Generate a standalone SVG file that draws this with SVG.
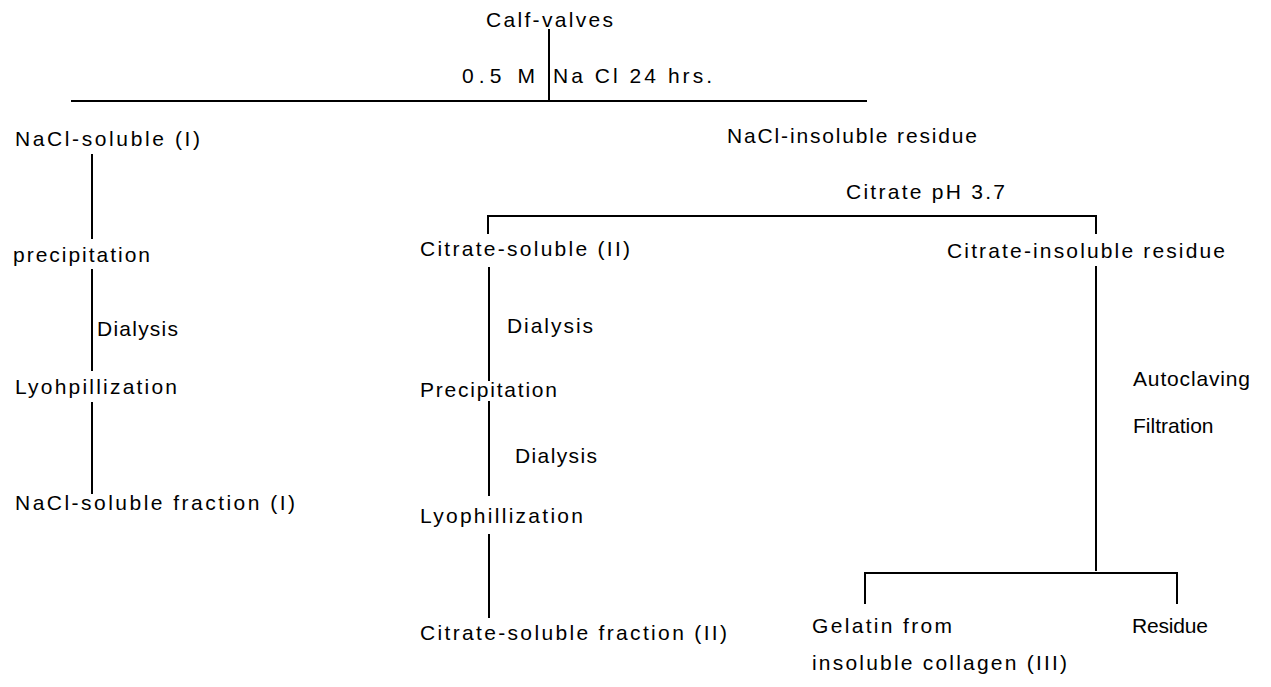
<svg xmlns="http://www.w3.org/2000/svg" width="1271" height="687" viewBox="0 0 1271 687">
<style>
  text { font-family: "Liberation Sans", Arial, sans-serif; font-size: 21px; fill: #000; }
  .ln { stroke: #000; stroke-width: 2; fill: none; stroke-linecap: square; }
</style>
<rect width="1271" height="687" fill="#fff"/>
<g id="connectors">
  <path class="ln" d="M549 30 V101"/>
  <path class="ln" d="M72 101 H866"/>
  <path class="ln" d="M92 155 V238 M92 270 V370 M92 403 V493"/>
  <path class="ln" d="M488 233 V216 H1096 V233"/>
  <path class="ln" d="M489 268 V380 M489 402 V495 M489 535 V617"/>
  <path class="ln" d="M1096 267 V570"/>
  <path class="ln" d="M865 603 V573 H1177 V603"/>
</g>
<g id="n-calf"><text x="486" y="27" textLength="127" lengthAdjust="spacing">Calf-valves</text></g>
<g id="e-nacl">
  <text x="462" y="83" textLength="73" lengthAdjust="spacing">0.5 M</text>
  <text x="553" y="83" textLength="159" lengthAdjust="spacing">Na Cl 24 hrs.</text>
</g>
<g id="n-nacl-soluble"><text x="15" y="146" textLength="185" lengthAdjust="spacing">NaCl-soluble (I)</text></g>
<g id="n-nacl-insoluble"><text x="727" y="143" textLength="250" lengthAdjust="spacing">NaCl-insoluble residue</text></g>
<g id="e-citrate"><text x="846" y="199" textLength="159" lengthAdjust="spacing">Citrate pH 3.7</text></g>
<g id="n-precip-left"><text x="13" y="262" textLength="137" lengthAdjust="spacing">precipitation</text></g>
<g id="e-dialysis-left"><text x="97" y="336" textLength="81" lengthAdjust="spacing">Dialysis</text></g>
<g id="n-lyo-left"><text x="15" y="394" textLength="162" lengthAdjust="spacing">Lyohpillization</text></g>
<g id="n-nacl-fraction"><text x="15" y="510" textLength="280" lengthAdjust="spacing">NaCl-soluble fraction (I)</text></g>
<g id="n-citrate-soluble"><text x="420" y="256" textLength="210" lengthAdjust="spacing">Citrate-soluble (II)</text></g>
<g id="e-dialysis-mid1"><text x="507" y="333" textLength="86" lengthAdjust="spacing">Dialysis</text></g>
<g id="n-precip-mid"><text x="420" y="397" textLength="137" lengthAdjust="spacing">Precipitation</text></g>
<g id="e-dialysis-mid2"><text x="515" y="463" textLength="82" lengthAdjust="spacing">Dialysis</text></g>
<g id="n-lyo-mid"><text x="420" y="523" textLength="163" lengthAdjust="spacing">Lyophillization</text></g>
<g id="n-citrate-fraction"><text x="420" y="640" textLength="307" lengthAdjust="spacing">Citrate-soluble fraction (II)</text></g>
<g id="n-citrate-insoluble"><text x="947" y="258" textLength="278" lengthAdjust="spacing">Citrate-insoluble residue</text></g>
<g id="e-autoclave">
  <text x="1133" y="386" textLength="117" lengthAdjust="spacing">Autoclaving</text>
  <text x="1133" y="433">Filtration</text>
</g>
<g id="n-gelatin">
  <text x="812" y="633" textLength="140" lengthAdjust="spacing">Gelatin from</text>
  <text x="812" y="670" textLength="255" lengthAdjust="spacing">insoluble collagen (III)</text>
</g>
<g id="n-residue"><text x="1132" y="633" textLength="76" lengthAdjust="spacing">Residue</text></g>
</svg>
